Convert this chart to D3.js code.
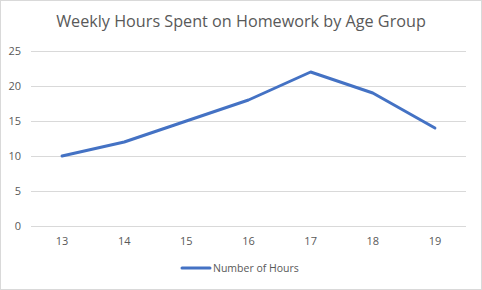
<!DOCTYPE html>
<html>
<head>
<meta charset="utf-8">
<script src="https://cdn.jsdelivr.net/npm/d3@7"></script>
<style>
  body { margin: 0; background: #fff; }
  text { font-family: "Open Sans", "Noto Sans", sans-serif; fill: #595959; }
</style>
</head>
<body>
<div id="chart"></div>
<script>
var ages = ["13", "14", "15", "16", "17", "18", "19"];
var hours = [10, 12, 15, 18, 22, 19, 14];
var yTicks = [0, 5, 10, 15, 20, 25];
var seriesName = "Number of Hours";
var title = "Weekly Hours Spent on Homework by Age Group";

var W = 482, H = 290;
var margin = { top: 51, right: 16, bottom: 64, left: 31 },
    width = W - margin.left - margin.right,
    height = H - margin.top - margin.bottom;

var svg = d3.select("#chart").append("svg")
    .attr("width", W)
    .attr("height", H);

// outer border
svg.append("rect")
    .attr("x", 0.5).attr("y", 0.5)
    .attr("width", W - 1).attr("height", H - 1)
    .attr("fill", "#fff")
    .attr("stroke", "#d9d9d9");

svg.append("text")
    .attr("x", W / 2)
    .attr("y", 27)
    .attr("text-anchor", "middle")
    .style("font-size", "16.2px")
    .text(title);

var g = svg.append("g")
    .attr("transform", "translate(" + margin.left + "," + margin.top + ")");

var X = d3.scaleBand()
    .domain(ages)
    .range([0, width]);

var Y = d3.scaleLinear()
    .domain([0, 25])
    .range([height, 0]);

// gridlines
g.selectAll("line.grid")
    .data(yTicks)
    .enter().append("line")
    .attr("class", "grid")
    .attr("x1", 0)
    .attr("x2", width)
    .attr("y1", function(d) { return Math.round(Y(d)) + 0.5; })
    .attr("y2", function(d) { return Math.round(Y(d)) + 0.5; })
    .attr("stroke", "#d9d9d9")
    .attr("stroke-width", 1);

// y labels
g.selectAll("text.ylab")
    .data(yTicks)
    .enter().append("text")
    .attr("class", "ylab")
    .attr("x", -10)
    .attr("y", function(d) { return Y(d); })
    .attr("dy", "0.35em")
    .attr("text-anchor", "end")
    .style("font-size", "11px")
    .text(function(d) { return d; });

// x labels
g.selectAll("text.xlab")
    .data(ages)
    .enter().append("text")
    .attr("class", "xlab")
    .attr("x", function(d) { return X(d) + X.bandwidth() / 2; })
    .attr("y", height + 19)
    .attr("text-anchor", "middle")
    .style("font-size", "11px")
    .text(function(d) { return d; });

var line = d3.line()
    .x(function(d, i) { return X(ages[i]) + X.bandwidth() / 2; })
    .y(function(d) { return Y(d); });

g.append("path")
    .datum(hours)
    .attr("fill", "none")
    .attr("stroke", "#4472c4")
    .attr("stroke-width", 3)
    .attr("stroke-linejoin", "round")
    .attr("stroke-linecap", "round")
    .attr("d", line);

// legend
var lg = svg.append("g").attr("transform", "translate(182,268)");
lg.append("line")
    .attr("x1", 0).attr("x2", 28)
    .attr("y1", 0).attr("y2", 0)
    .attr("stroke", "#4472c4")
    .attr("stroke-width", 3)
    .attr("stroke-linecap", "round");
lg.append("text")
    .attr("x", 31)
    .attr("y", 0)
    .attr("dy", "0.35em")
    .style("font-size", "10.5px")
    .text(seriesName);
</script>
</body>
</html>
